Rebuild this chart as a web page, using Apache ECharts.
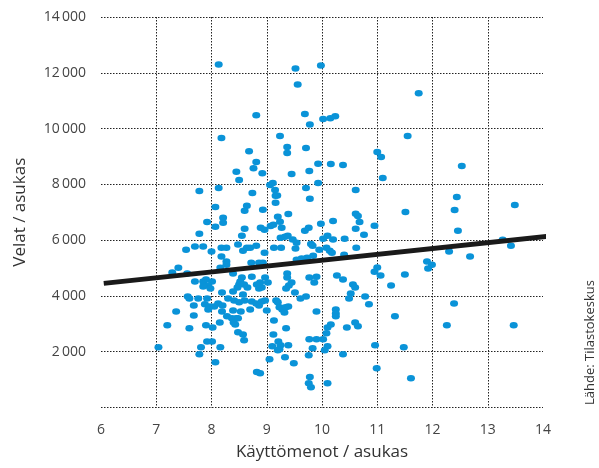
<!DOCTYPE html>
<html>
<head>
<meta charset="utf-8">
<script src="https://cdn.jsdelivr.net/npm/echarts@6/dist/echarts.min.js"></script>
<style>html,body{margin:0;padding:0;background:#fff}#c{width:599px;height:468px}</style>
</head>
<body>
<div id="c"></div>
<script>
// Käyttömenot / asukas (x, 1000 €) and Velat / asukas (y, €)
const pointsX = [8.13,7.78,8.18,8.81,8.68,8.81,8.76,8.92,8.45,8.5,8.13,8.74,8.07,8.64,8.6,8.93,7.92,8.21,8.21,8.07,8.6,7.78,8.89,8.96,9.07,9.12,8.55,9.52,9.56,9.69,9.78,9.24,9.37,9.37,9.71,9.45,9.71,9.06,9.11,9.15,9.16,9.19,9.16,9.2,9.24,9.39,9.27,9.25,9.33,9.38,9.47,9.69,9.76,
9.98,11.75,10.02,10.15,10.24,11.55,11.0,11.07,9.93,10.16,10.38,9.77,12.53,11.1,9.93,10.61,12.44,13.49,9.78,12.4,11.51,10.61,10.65,10.2,10.68,9.98,10.95,10.61,12.46,10.76,10.1,10.02,10.2,10.41,13.27,
9.8,9.83,9.95,10.08,10.14,10.18,9.84,9.73,10.4,10.62,12.3,12.68,13.42,11.9,11.99,11.92,14.16,10.95,11.0,11.06,11.5,11.25,10.27,10.38,10.56,10.6,9.77,9.9,9.86,10.78,10.85,10.52,10.49,12.39,12.26,13.47,11.32,10.25,10.25,10.25,10.6,10.65,10.45,10.16,10.1,10.08,9.9,10.02,9.9,9.77,10.1,10.05,10.96,11.48,10.38,9.83,9.76,10.99,11.61,10.1,9.78,9.8,9.76,
7.4,7.29,7.56,7.54,7.7,7.85,8.0,7.7,7.57,7.6,7.76,7.68,7.36,7.68,7.6,7.2,7.9,8.02,7.92,8.01,7.81,7.78,8.16,7.04,8.07,8.82,8.88,9.05,9.2,9.33,9.49,9.25,9.39,
8.18,8.27,8.48,8.57,8.64,8.7,8.81,8.96,8.18,
8.27,8.27,8.16,8.72,8.86,8.93,7.85,7.9,8.01,7.94,7.85,7.98,8.39,8.55,8.52,8.59,8.5,8.47,8.65,8.73,8.88,8.86,8.91,8.82,8.19,8.39,8.57,7.92,8.3,8.41,8.5,8.6,8.73,8.81,8.86,8.91,8.97,7.88,7.97,8.05,8.12,8.2,7.94,8.19,8.39,8.53,8.7,8.28,8.37,8.45,8.4,8.48,8.43,8.15,8.48,8.57,8.59,
9.54,9.63,9.37,9.37,9.45,9.4,9.35,8.97,9.02,9.51,9.71,9.61,9.17,9.2,9.23,9.28,9.32,9.39,9.34,9.0,9.13,9.35,9.12,9.1,9.21,9.23,
9.54,9.13,9.26,9.52];
const pointsY = [12300,7765,9660,10480,9190,8800,8580,8400,8450,8160,7870,7690,7190,7230,7050,7090,6650,6800,6620,6480,6410,6230,6440,6370,6510,6550,6160,12150,11580,10520,10150,9730,9340,9120,9300,8370,7870,7980,8050,7800,7590,7600,7340,6840,6660,6940,6440,6090,6120,6160,6020,6340,6440,
12260,11270,10340,10370,10440,9730,9160,8980,8740,8730,8690,8480,8660,8230,8050,7800,7550,7260,7480,7080,7010,6950,6870,6690,6650,6590,6520,6410,6340,6190,6160,6050,6020,6050,6010,
5860,5800,5660,5730,5620,5550,5440,5370,5480,5730,5590,5410,5800,5230,5120,4980,4840,4870,5020,4730,4770,4370,4730,4590,4410,4300,4660,4690,4480,3980,3700,4090,3910,3730,2950,2950,3270,3510,3370,3270,3050,2910,2870,2980,2870,2660,3440,2450,2450,2450,2200,2050,2230,2160,1910,2120,1870,1410,1050,870,1090,730,870,
5010,4840,4800,5660,5770,5770,5590,4520,3980,3910,3910,3660,3440,3300,2840,2950,2950,2870,2370,2370,2160,1910,2160,2160,1620,1270,1230,1730,2050,1800,1590,2230,2230,
5730,5730,5840,5620,5730,5730,5800,5550,5410,
5230,5120,5010,5190,5190,5190,4520,4590,4520,4370,4340,4270,4800,4660,4520,4410,4410,4300,4300,4690,4480,4270,4300,4410,4120,4160,4050,3910,3910,3840,3770,3840,3800,3730,3660,3800,3840,3700,3620,3620,3730,3660,3510,3440,3480,3440,3510,3270,3200,3200,3050,3200,2980,3050,2700,2620,2410,
5300,5340,4800,4660,4480,4370,4270,4660,4480,4120,3980,3910,3840,3770,3590,3510,3410,3620,3590,3480,3120,2840,2620,2200,2370,2090,
5910,5730,5730,5700];
// regression line end points
const trendX = [6.05, 15.0];
const trendY = [4450, 6330];
const xTicks = [6,7,8,9,10,11,12,13,14];
const yTicks = [0,2000,4000,6000,8000,10000,12000,14000];

const scatterData = pointsX.map((x, i) => [x, pointsY[i]]);
const trendData = trendX.map((x, i) => [x, trendY[i]]);
const FONT = "'Open Sans', 'Noto Sans', sans-serif";
const fmt = v => String(v).replace(/\B(?=(\d{3})+(?!\d))/g, '\u2009');

const chart = echarts.init(document.getElementById('c'), null, {renderer: 'canvas'});
chart.setOption({
  animation: false,
  grid: {left: 101, right: 56, top: 17, bottom: 60.5, containLabel: false},
  xAxis: {
    type: 'value', min: xTicks[0], max: xTicks[xTicks.length - 1], interval: 1,
    name: 'Käyttömenot / asukas', nameLocation: 'middle', nameGap: 36,
    nameTextStyle: {fontFamily: FONT, fontSize: 17, color: '#333'},
    axisLine: {show: false}, axisTick: {show: false},
    axisLabel: {fontFamily: FONT, fontSize: 14, color: '#444', margin: 16},
    splitLine: {show: true, showMinLine: false, showMaxLine: false,
      lineStyle: {type: [1.5, 1.5], color: '#222', width: 1}}
  },
  yAxis: {
    type: 'value', min: yTicks[0], max: yTicks[yTicks.length - 1], interval: 2000,
    name: 'Velat / asukas', nameLocation: 'middle', nameGap: 72, nameRotate: 90,
    nameTextStyle: {fontFamily: FONT, fontSize: 17, color: '#333'},
    axisLine: {show: false}, axisTick: {show: false},
    axisLabel: {fontFamily: FONT, fontSize: 14, color: '#444', margin: 15,
      formatter: v => v === 0 ? '' : fmt(v)},
    splitLine: {show: true, lineStyle: {type: [1.5, 1.5], color: '#222', width: 1}}
  },
  graphic: [{
    type: 'text', x: 590, y: 405, rotation: Math.PI / 2,
    style: {text: 'Lähde: Tilastokeskus', fontFamily: FONT, fontSize: 13, fill: '#333',
      align: 'left', verticalAlign: 'middle'}
  }],
  series: [{
    type: 'scatter', data: scatterData, symbol: 'circle', symbolSize: [8, 6.5],
    itemStyle: {color: '#0a93d8', opacity: 1}, z: 2
  }, {
    type: 'line', data: trendData, clip: false, symbol: 'none',
    lineStyle: {color: '#1a1a1a', width: 5}, z: 3
  }]
});
</script>
</body>
</html>
